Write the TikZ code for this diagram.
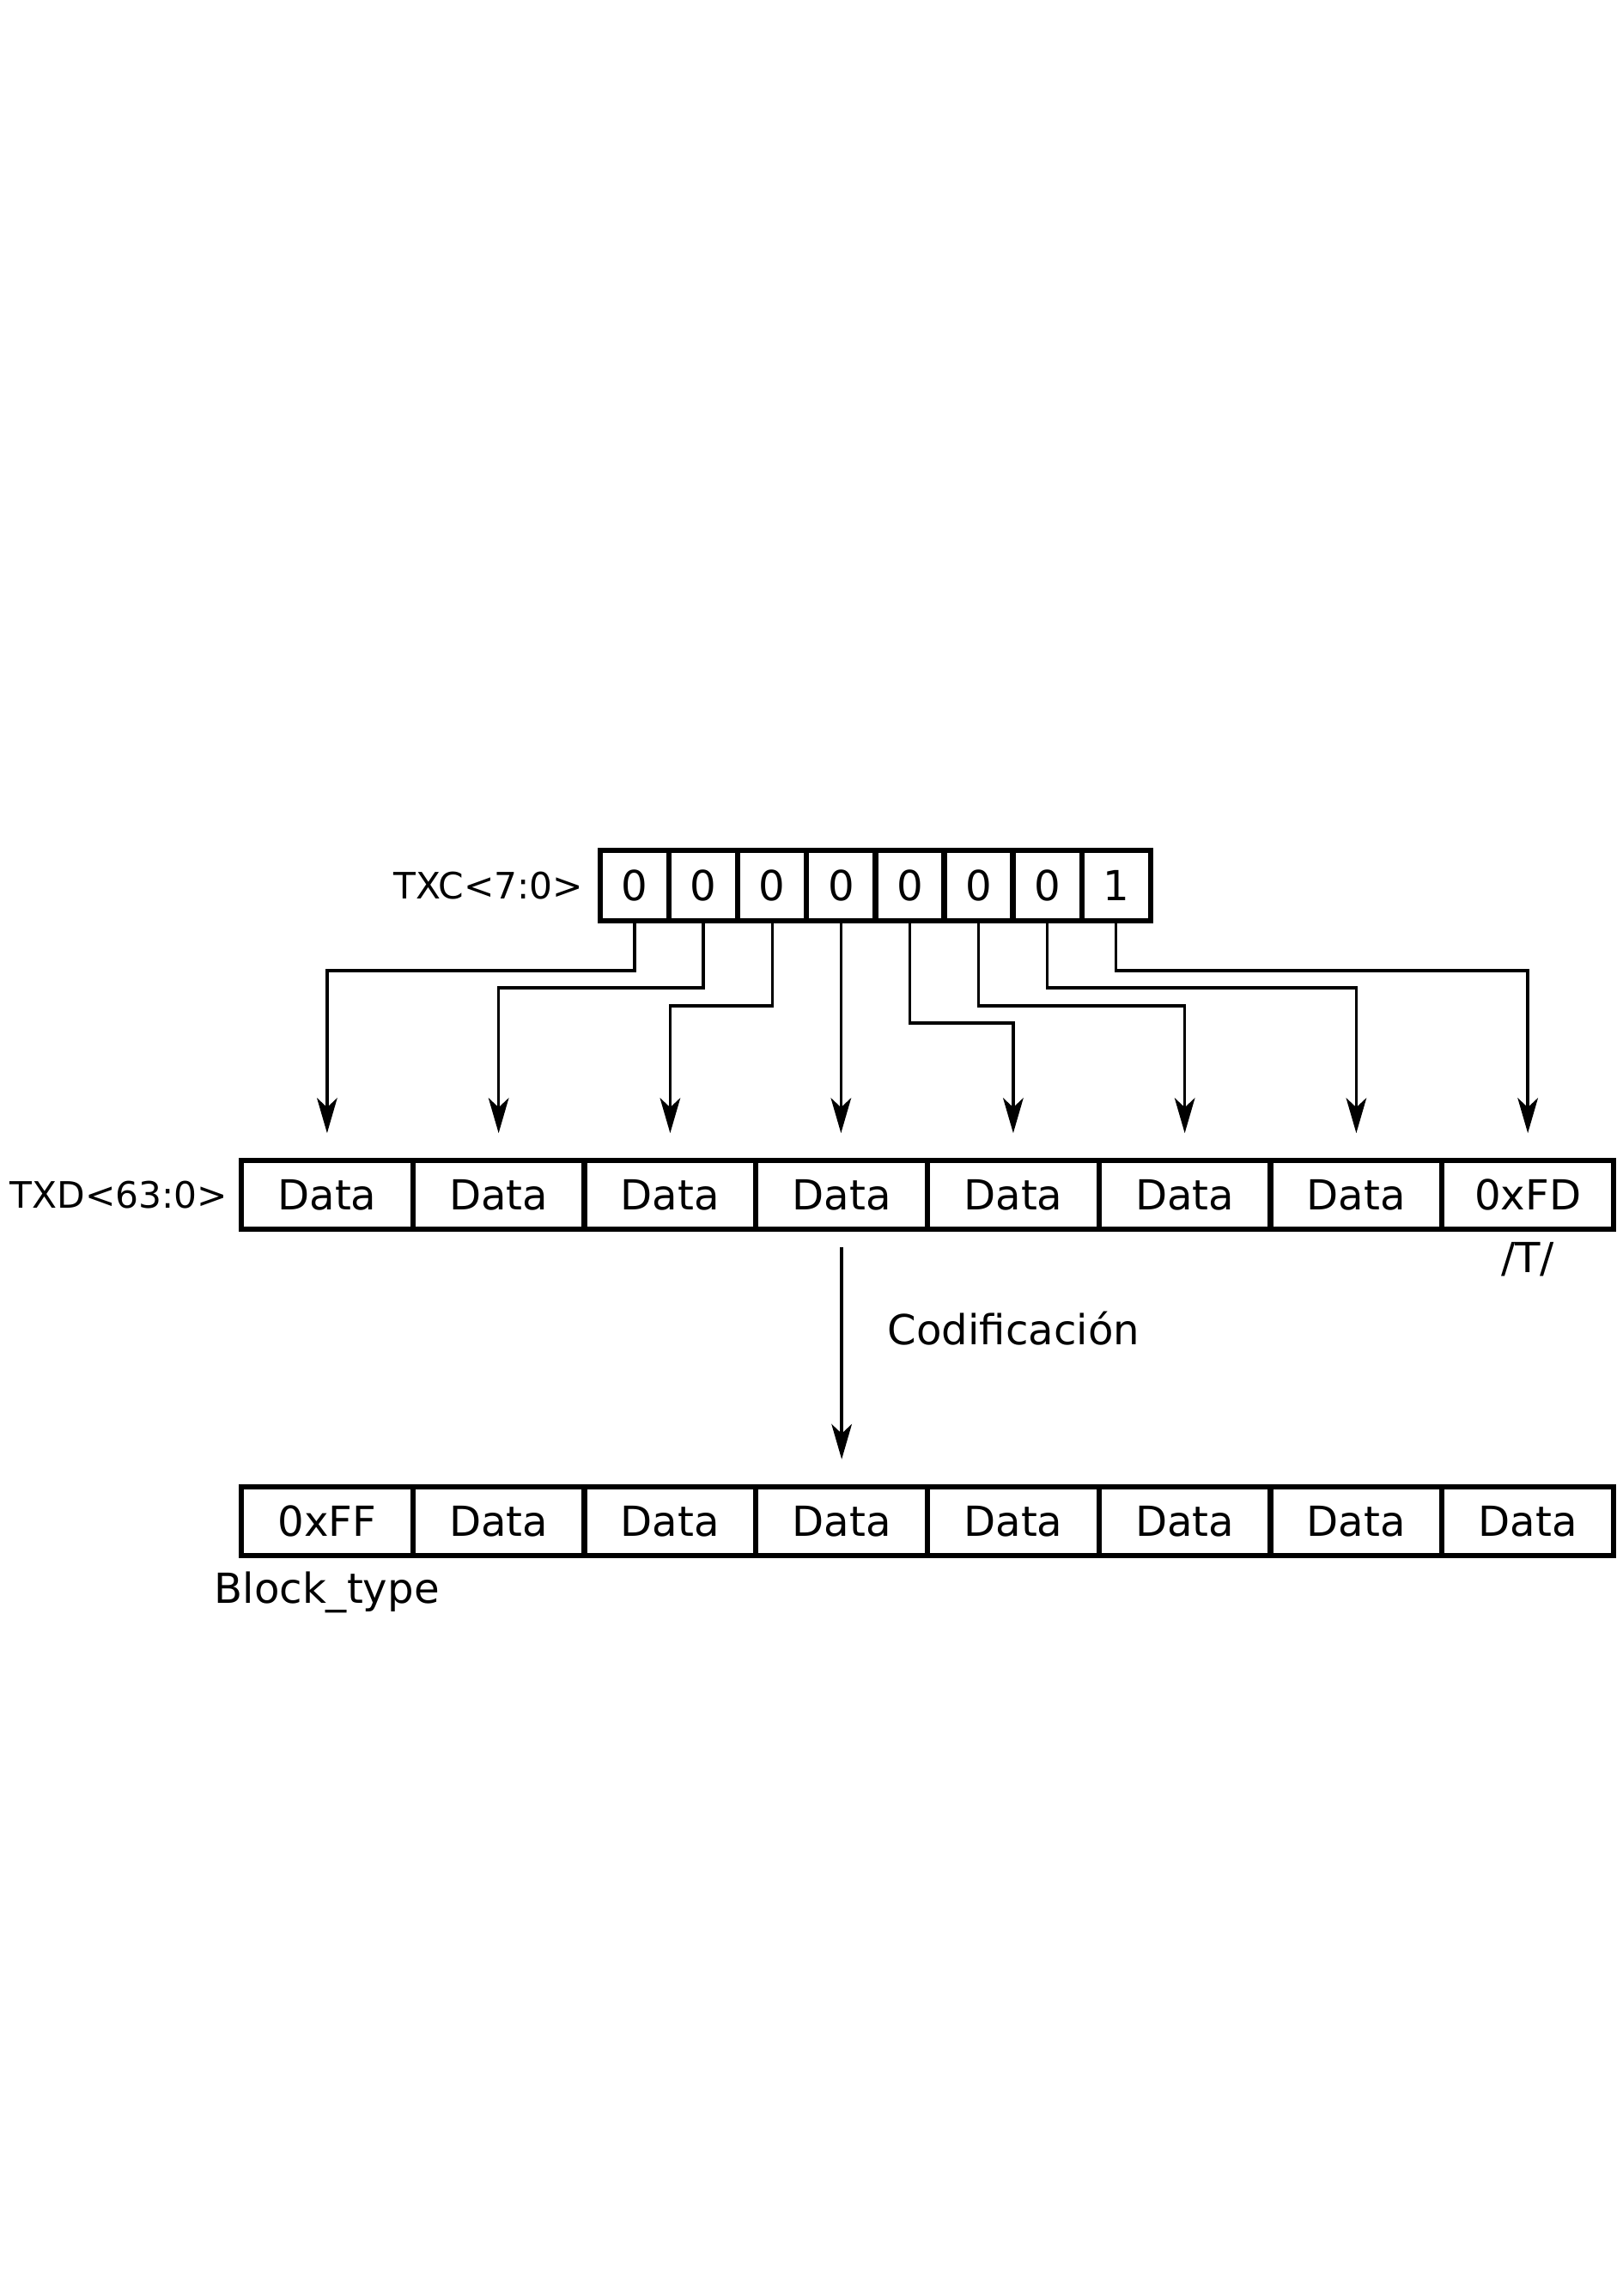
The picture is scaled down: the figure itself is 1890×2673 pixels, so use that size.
\documentclass[tikz,border=0pt]{standalone}
\usepackage{fontspec}
\setmainfont{DejaVu Sans}
\usetikzlibrary{arrows.meta}
\begin{document}
\begin{tikzpicture}[x=0.3175pt,y=-0.3175pt,
  bigtext/.style={font=\fontsize{15.3}{18}\selectfont},
  cell/.style={draw, line width=2pt, minimum width=63.42pt, minimum height=25.4pt, inner sep=0pt, bigtext},
  bitcell/.style={draw, line width=2pt, minimum width=25.43pt, minimum height=26.03pt, inner sep=0pt, bigtext},
  conn/.style={line width=1.1pt, -{Stealth[length=13pt,width=7.5pt,inset=3.5pt]}, shorten >=9.1pt},
  lbl/.style={inner sep=0pt, font=\fontsize{13.45}{16}\selectfont}]
\useasboundingbox (0,0) rectangle (1890,2673);

% TXC bits
\foreach \v [count=\i from 0] in {0,0,0,0,0,0,0,1}
  \node[bitcell] (c\i) at ({739.05+80.1*\i},1031) {\v};

% TXD row
\foreach \t [count=\i from 0] in {Data,Data,Data,Data,Data,Data,Data,0xFD}
  \node[cell] (d\i) at ({380.9+199.75*\i},1391) {\t};

% encoded row
\foreach \t [count=\i from 0] in {0xFF,Data,Data,Data,Data,Data,Data,Data}
  \node[cell] (e\i) at ({380.9+199.75*\i},1771) {\t};

% labels
\node[lbl, anchor=east] (txc) at (680,1031) {TXC<7:0>};
\node[lbl, anchor=east] (txd) at (266,1391) {TXD<63:0>};
\node[bigtext, inner sep=0pt, anchor=base] (tlab) at (1779,1481) {/T/};
\node[bigtext, inner sep=0pt, anchor=base west] (cod) at (1033,1565) {Codificación};
\node[bigtext, inner sep=0pt, anchor=base west] (btype) at (249,1866) {Block\_type};

% connectors TXC -> TXD
\draw[conn] (c0.south) -- ++(0,55) -| (d0.north);
\draw[conn] (c1.south) -- ++(0,75) -| (d1.north);
\draw[conn] (c2.south) -- ++(0,96) -| (d2.north);
\draw[conn] (c3.south) -- (c3.south |- d3.north);
\draw[conn] (c4.south) -- ++(0,116) -| (d4.north);
\draw[conn] (c5.south) -- ++(0,96) -| (d5.north);
\draw[conn] (c6.south) -- ++(0,75) -| (d6.north);
\draw[conn] (c7.south) -- ++(0,55) -| (d7.north);

% encoding arrow
\draw[conn, shorten <=5.7pt, shorten >=9.2pt] (d3.south) -- (e3.north);
\end{tikzpicture}
\end{document}
